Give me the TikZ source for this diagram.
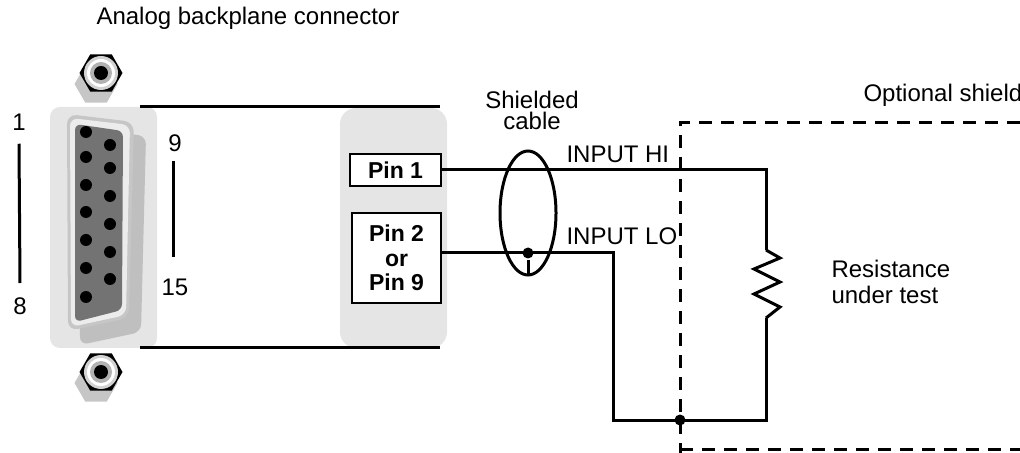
\documentclass[tikz,border=0pt]{standalone}
\usepackage{fontspec}
\setmainfont{Liberation Sans}
\usetikzlibrary{positioning, shapes.geometric}

\begin{document}
\begin{tikzpicture}[x=0.5pt, y=-0.5pt, line width=1.5pt, font=\fontsize{12}{13}\selectfont]

  % Stili
  \tikzstyle{pinbox} = [rectangle, draw=black, line width=1.2pt, fill=white, align=center, inner sep=0pt, font=\fontsize{11.5}{12.25}\selectfont\bfseries]
  \tikzstyle{txt} = [inner sep=0pt, anchor=base west]
  \tikzstyle{dot} = [circle, fill=black, inner sep=0pt, minimum size=5.5pt]
  \tikzstyle{hexnut} = [regular polygon, regular polygon sides=6, minimum size=21.5pt, inner sep=0pt]
  \tikzstyle{shield} = [dash pattern=on 6.5pt off 4.5pt]

  \useasboundingbox (0,0) rectangle (1020,453);

  % Connettore
  \fill[gray!20, rounded corners=5pt] (50,107) rectangle (157,348);
  \foreach \ny/\nm in {73/nuta, 372/nutb} {
    \node[hexnut, fill=gray!45] at (96,\ny+11) {};
    \node[hexnut, fill=black] (\nm) at (101,\ny) {};
    \fill[gray!35] (\nm) circle (17);
    \fill[white] (\nm) circle (14);
    \fill[gray!60] (\nm) circle (11);
    \fill[black] (\nm) circle (7);
  }
  \fill[gray!50, rounded corners=4pt] (79,128) -- (146,136) -- (141,332) -- (80,345) -- cycle;
  \fill[gray!45, rounded corners=5pt] (67,114) -- (134,122) -- (129,318) -- (68,331) -- cycle;
  \fill[white!85!gray, rounded corners=4pt] (70,118) -- (130,125) -- (126,315) -- (71,327) -- cycle;
  \fill[black!55, rounded corners=3pt] (75,124) -- (123,131) -- (122,310) -- (75,322) -- cycle;
  \foreach \py in {132,157,185,212,240,268,297}
    \fill (86,\py) circle (6);
  \foreach \py in {145,168,196,224,252,279}
    \fill (110,\py) circle (6);

  % Numeri dei pin
  \node[inner sep=0pt] (n1) at (19,122) {1};
  \node[inner sep=0pt] (n8) at (20,306) {8};
  \node[inner sep=0pt] (n9) at (175,143) {9};
  \node[inner sep=0pt] (n15) at (175,287) {15};
  \draw ([yshift=-6pt]n1.south) -- ([yshift=6.5pt]n8.north);
  \draw ([yshift=-4pt]n9.south -| 173,0) -- ([yshift=10pt]n15.north -| 173,0);

  % Cavo
  \fill[gray!20, rounded corners=8pt] (340,108) rectangle (447,348);
  \draw (140,107) -- (440,107);
  \draw (140,348) -- (440,348);
  \node[txt] (title) at (95,25) {Analog backplane connector};

  \node[pinbox, minimum width=45.5pt, minimum height=16pt] (pin1) at (395.5,170) {Pin 1};
  \node[pinbox, minimum width=44.5pt, minimum height=45pt] (pin2) at (396.5,258) {Pin 2\\or\\Pin 9};

  \node[draw, ellipse, minimum width=28pt, minimum height=62pt, inner sep=0pt] (cable) at (528,213) {};
  \node[align=center, inner sep=0pt, font=\fontsize{12}{10.5}\selectfont] (cablelab) at (532,110) {Shielded\\cable};

  \coordinate (hiEnd) at (766,170);
  \coordinate (rtop) at (766,250);
  \coordinate (rbot) at (766,318);
  \coordinate (loBend) at (613,253);
  \coordinate (loDown) at (613,420);
  \coordinate (rcorner) at (766,420);

  \node[dot] (shdot) at (cable |- loBend) {};
  \node[dot] (gnddot) at (680,420) {};

  % Fili
  \draw (pin1.east) -- (hiEnd) -- (rtop);
  \draw (rtop) -- ++(14,8) -- ++(-26,11) -- ++(26,13) -- ++(-26,12) -- ++(26,13) -- ++(-14,11);
  \draw ([yshift=2.5pt]pin2.east) -- (loBend) -- (loDown) -- (rcorner) -- (rbot);
  \draw (shdot) -- (cable.south);

  \node[txt] (hilab) at (565,163) {INPUT HI};
  \node[txt] (lolab) at (565,245) {INPUT LO};

  % Schermo
  \draw[shield] (1020,123) -- (680,123) -- (680,453);
  \draw[shield] (680,449) -- (1020,449);
  \node[txt] (shieldlab) at (862,102) {Optional shield};
  \node[inner sep=0pt, align=left, anchor=north west] (rlab) at (830,259) {Resistance\\under test};

\end{tikzpicture}
\end{document}
